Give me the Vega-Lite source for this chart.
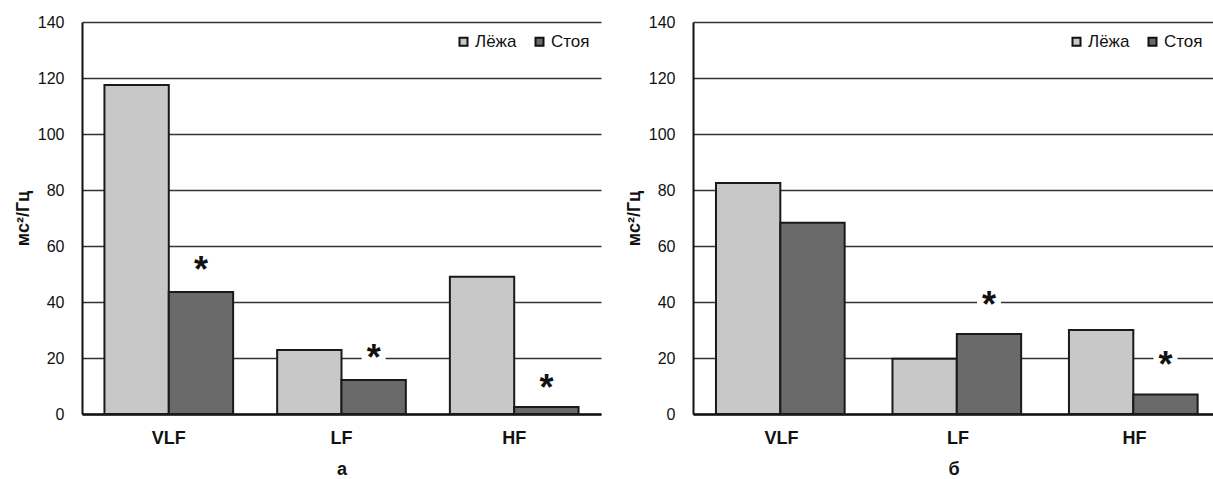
{
  "$schema": "https://vega.github.io/schema/vega-lite/v6.json",
  "padding": {"left": 14, "top": 14, "right": 0, "bottom": 0},
  "background": "white",
  "config": {
    "font": "Liberation Sans",
    "view": {"stroke": null},
    "concat": {"spacing": 24},
    "axisY": {"domainColor": "#111111", "domainWidth": 2, "ticks": false, "labelPadding": 18, "labelFontSize": 16, "labelColor": "#111111", "grid": true, "gridColor": "#333333", "gridWidth": 1.3, "titleFontSize": 18, "titleFontWeight": "bold", "titlePadding": 5, "titleColor": "#111111"},
    "axisX": {"domainColor": "#111111", "domainWidth": 2.5, "ticks": false, "labelFontSize": 18, "labelFontWeight": "bold", "labelPadding": 15, "labelAngle": 0, "labelColor": "#111111", "titleFontSize": 18, "titleFontWeight": "bold", "titlePadding": 13, "titleColor": "#111111", "grid": false},
    "legend": {"orient": "top-right", "direction": "horizontal", "symbolType": "square", "symbolSize": 64, "symbolStrokeColor": "#111111", "symbolStrokeWidth": 2, "labelFontSize": 17, "labelColor": "#111111", "offset": 11, "columnPadding": 14, "labelOffset": 3}
  },
  "datasets": {
    "bars": [
      {"panel": "а", "cat": "VLF", "grp": "Лёжа", "val": 117.5},
      {"panel": "а", "cat": "VLF", "grp": "Стоя", "val": 43.6},
      {"panel": "а", "cat": "LF", "grp": "Лёжа", "val": 22.9},
      {"panel": "а", "cat": "LF", "grp": "Стоя", "val": 12.1},
      {"panel": "а", "cat": "HF", "grp": "Лёжа", "val": 49},
      {"panel": "а", "cat": "HF", "grp": "Стоя", "val": 2.5},
      {"panel": "б", "cat": "VLF", "grp": "Лёжа", "val": 82.5},
      {"panel": "б", "cat": "VLF", "grp": "Стоя", "val": 68.3},
      {"panel": "б", "cat": "LF", "grp": "Лёжа", "val": 19.7},
      {"panel": "б", "cat": "LF", "grp": "Стоя", "val": 28.6},
      {"panel": "б", "cat": "HF", "grp": "Лёжа", "val": 30},
      {"panel": "б", "cat": "HF", "grp": "Стоя", "val": 7}
    ],
    "stars": [
      {"panel": "а", "cat": "VLF", "grp": "Стоя", "val": 54.3},
      {"panel": "а", "cat": "LF", "grp": "Стоя", "val": 22.9},
      {"panel": "а", "cat": "HF", "grp": "Стоя", "val": 12.1},
      {"panel": "б", "cat": "LF", "grp": "Стоя", "val": 41.9},
      {"panel": "б", "cat": "HF", "grp": "Стоя", "val": 20.5}
    ]
  },
  "resolve": {"scale": {"fill": "independent"}, "legend": {"fill": "independent"}},
  "hconcat": [
    {
      "width": 519,
      "height": 392,
      "encoding": {
        "x": {"field": "cat", "type": "nominal", "scale": {"domain": ["VLF", "LF", "HF"], "paddingInner": 0.255, "paddingOuter": 0.13}, "axis": {"title": "а"}},
        "xOffset": {"field": "grp", "type": "nominal", "scale": {"domain": ["Лёжа", "Стоя"], "paddingInner": 0, "paddingOuter": 0}},
        "y": {"field": "val", "type": "quantitative", "scale": {"domain": [0, 140], "nice": false}, "axis": {"title": "мс²/Гц", "values": [0, 20, 40, 60, 80, 100, 120, 140]}}
      },
      "layer": [
        {
          "data": {"name": "bars"},
          "transform": [{"filter": "datum.panel === 'а'"}],
          "mark": {"type": "bar", "stroke": "#1a1a1a", "strokeWidth": 2},
          "encoding": {
            "fill": {"field": "grp", "type": "nominal", "scale": {"domain": ["Лёжа", "Стоя"], "range": ["#c8c8c8", "#6a6a6a"]}, "legend": {"title": null}}
          }
        },
        {
          "data": {"name": "stars"},
          "transform": [{"filter": "datum.panel === 'а'"}],
          "mark": {"type": "point", "shape": "square", "filled": true, "color": "white", "opacity": 1, "size": 576}
        },
        {
          "data": {"name": "stars"},
          "transform": [{"filter": "datum.panel === 'а'"}],
          "mark": {"type": "text", "text": "*", "fontSize": 36, "fontWeight": "bold", "baseline": "middle", "dy": 9, "color": "#111111"}
        }
      ]
    },
    {
      "width": 521,
      "height": 392,
      "encoding": {
        "x": {"field": "cat", "type": "nominal", "scale": {"domain": ["VLF", "LF", "HF"], "paddingInner": 0.258, "paddingOuter": 0.105, "align": 0.62}, "axis": {"title": "б"}},
        "xOffset": {"field": "grp", "type": "nominal", "scale": {"domain": ["Лёжа", "Стоя"], "paddingInner": 0, "paddingOuter": 0}},
        "y": {"field": "val", "type": "quantitative", "scale": {"domain": [0, 140], "nice": false}, "axis": {"title": "мс²/Гц", "values": [0, 20, 40, 60, 80, 100, 120, 140]}}
      },
      "layer": [
        {
          "data": {"name": "bars"},
          "transform": [{"filter": "datum.panel === 'б'"}],
          "mark": {"type": "bar", "stroke": "#1a1a1a", "strokeWidth": 2},
          "encoding": {
            "fill": {"field": "grp", "type": "nominal", "scale": {"domain": ["Лёжа", "Стоя"], "range": ["#c8c8c8", "#6a6a6a"]}, "legend": {"title": null}}
          }
        },
        {
          "data": {"name": "stars"},
          "transform": [{"filter": "datum.panel === 'б'"}],
          "mark": {"type": "point", "shape": "square", "filled": true, "color": "white", "opacity": 1, "size": 576}
        },
        {
          "data": {"name": "stars"},
          "transform": [{"filter": "datum.panel === 'б'"}],
          "mark": {"type": "text", "text": "*", "fontSize": 36, "fontWeight": "bold", "baseline": "middle", "dy": 9, "color": "#111111"}
        }
      ]
    }
  ]
}
